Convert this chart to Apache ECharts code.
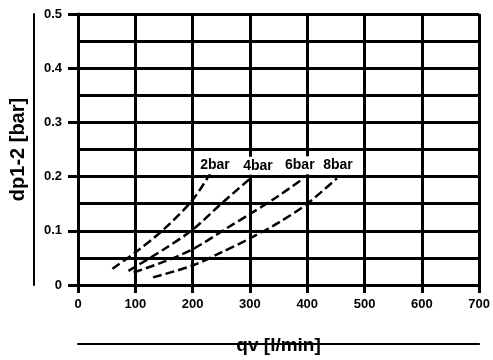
<!DOCTYPE html>
<html>
<head>
<meta charset="utf-8">
<script src="https://cdn.jsdelivr.net/npm/echarts@6/dist/echarts.min.js"></script>
<style>html,body{margin:0;padding:0;background:#fff;}#c{width:493px;height:360px;}</style>
</head>
<body>
<div id="c"></div>
<script>
// Data (flow qv [l/min] vs pressure drop dp1-2 [bar])
var seriesNames = ['2bar', '4bar', '6bar', '8bar'];
var flow2 = [60, 100, 150, 200, 232];
var dp2   = [0.03, 0.06, 0.103, 0.157, 0.208];
var flow4 = [88, 150, 200, 250, 300];
var dp4   = [0.026, 0.066, 0.102, 0.15, 0.196];
var flow6 = [97, 150, 200, 260, 300, 345, 394];
var dp6   = [0.023, 0.043, 0.066, 0.105, 0.131, 0.161, 0.197];
var flow8 = [131, 200, 250, 300, 350, 400, 452];
var dp8   = [0.014, 0.036, 0.06, 0.086, 0.115, 0.15, 0.197];
var xTickLabels = ['0', '100', '200', '300', '400', '500', '600', '700'];
var yTickLabels = ['0', '0.1', '0.2', '0.3', '0.4', '0.5'];

var flows = [flow2, flow4, flow6, flow8];
var dps = [dp2, dp4, dp6, dp8];
// label offsets (styling only)
var labelOffsets = [[4, -7], [8, -13], [-4, -13], [1, -13]];

var FONT = 'Liberation Sans';
var series = seriesNames.map(function (name, s) {
  var xs = flows[s], ys = dps[s];
  var data = xs.map(function (x, i) {
    if (i === xs.length - 1) {
      return {
        value: [x, ys[i]],
        label: {
          show: true, position: 'inside', offset: labelOffsets[s],
          formatter: name, color: '#000', fontFamily: FONT, fontWeight: 'bold',
          fontSize: 14, backgroundColor: '#fff', padding: [2, 3]
        }
      };
    }
    return [x, ys[i]];
  });
  return {
    name: name, type: 'line', data: data, smooth: 0.3,
    symbol: 'circle', symbolSize: 2, showSymbol: true,
    itemStyle: { color: 'rgba(0,0,0,0)', borderWidth: 0 },
    lineStyle: { color: '#000', width: 2.5, type: [9, 4] },
    z: 3, silent: true, animation: false
  };
});
// empty series so that the decorative outer axes are rendered
series.push({ type: 'line', xAxisIndex: 1, yAxisIndex: 1, data: [], silent: true });

var chart = echarts.init(document.getElementById('c'), null, { renderer: 'canvas' });
chart.setOption({
  backgroundColor: '#fff',
  animation: false,
  grid: { left: 78, right: 11, top: 14, bottom: 67 },
  xAxis: [{
    type: 'value', min: 0, max: 700, interval: 100,
    name: 'qv [l/min]', nameLocation: 'middle', nameGap: 51,
    nameTextStyle: { fontFamily: FONT, fontWeight: 'bold', fontSize: 19, color: '#000' },
    axisLine: { show: true, lineStyle: { color: '#000', width: 3 } },
    axisTick: { show: true, length: 8, lineStyle: { color: '#000', width: 3 } },
    axisLabel: {
      margin: 13, color: '#000', fontFamily: FONT, fontWeight: 'bold', fontSize: 13,
      formatter: function (v) { return xTickLabels[Math.round(v / 100)]; }
    },
    splitLine: { show: true, lineStyle: { color: '#000', width: 3 } }
  }, {
    type: 'value', min: 0, max: 700, position: 'bottom', offset: 59,
    axisLine: { show: true, onZero: false, lineStyle: { color: '#000', width: 2 } },
    axisTick: { show: false }, axisLabel: { show: false }, splitLine: { show: false }
  }],
  yAxis: [{
    type: 'value', min: 0, max: 0.5, interval: 0.1,
    name: 'dp1-2 [bar]', nameLocation: 'middle', nameGap: 50, nameRotate: 90,
    nameTextStyle: { fontFamily: FONT, fontWeight: 'bold', fontSize: 20, color: '#000' },
    axisLine: { show: true, lineStyle: { color: '#000', width: 3 } },
    axisTick: { show: true, length: 10, lineStyle: { color: '#000', width: 3 } },
    axisLabel: {
      margin: 16, color: '#000', fontFamily: FONT, fontWeight: 'bold', fontSize: 13,
      formatter: function (v) { return yTickLabels[Math.round(v * 10)]; }
    },
    splitLine: { show: true, lineStyle: { color: '#000', width: 3 } },
    minorTick: { show: false, splitNumber: 2 },
    minorSplitLine: { show: true, lineStyle: { color: '#000', width: 3 } }
  }, {
    type: 'value', min: 0, max: 0.5, position: 'left', offset: 44,
    axisLine: { show: true, onZero: false, lineStyle: { color: '#000', width: 2 } },
    axisTick: { show: false }, axisLabel: { show: false }, splitLine: { show: false }
  }],
  series: series
});
</script>
</body>
</html>
